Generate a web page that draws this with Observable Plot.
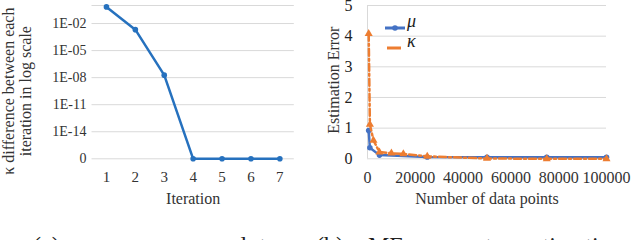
<!DOCTYPE html>
<html><head><meta charset="utf-8">
<script src="https://cdn.jsdelivr.net/npm/d3@7"></script>
<script src="https://cdn.jsdelivr.net/npm/@observablehq/plot@0.6"></script>
<style>
body{margin:0;background:#fff;width:636px;height:240px;overflow:hidden;position:relative;font-family:"Liberation Serif",serif}
#a{position:absolute;left:0;top:0}
#b{position:absolute;left:316px;top:0}
svg text{font-family:"Liberation Serif",serif !important;font-variant:normal !important}
.cap{position:absolute;top:233px;font-size:24px;line-height:24px;white-space:pre;color:#222}
.leg{position:absolute;font-size:18px;font-style:italic;color:#222;line-height:18px}
.legsw{position:absolute}
</style></head><body>
<div id="a"></div><div id="b"></div>
<div id="legend"></div>
<div class="cap" style="left:33px">(a)  κ  convergence  plot</div>
<div class="cap" style="left:316px">(b)  vMF  parameter  estimation</div>
<script>
// Left chart data
const iterations = [1, 2, 3, 4, 5, 6, 7];
const kappaDiff = [0.7, 2.1e-3, 1.9e-8, 0, 0, 0, 0];
const logTickExps = [-2, -5, -8, -11, -14];
const zeroExp = -17;
// Right chart data
const muN = [500, 1000, 5000, 25000, 50000, 75000, 100000];
const muErr = [0.92, 0.36, 0.12, 0.06, 0.05, 0.05, 0.05];
const kappaN = [500, 1000, 2500, 5000, 10000, 15000, 25000, 50000, 75000, 100000];
const kappaErr = [4.08, 1.12, 0.6, 0.22, 0.18, 0.16, 0.08, 0.01, 0.0, 0.0];
const xTicksB = [0, 20000, 40000, 60000, 80000, 100000];
const yTicksB = [0, 1, 2, 3, 4, 5];

const font = "Liberation Serif";
const gridColor = "#d9d9d9";
const textColor = "#333";

const leftData = iterations.map((it, i) => ({it, v: kappaDiff[i], e: kappaDiff[i] === 0 ? zeroExp : Math.log10(kappaDiff[i])}));
const fmtExp = e => e === zeroExp ? "0" : "1E" + (e < 0 ? "-" : "+") + String(Math.abs(e)).padStart(2, "0");

const chartA = Plot.plot({
  width: 316, height: 210,
  marginLeft: 91.5, marginRight: 22.2, marginTop: 5, marginBottom: 51.7,
  style: {fontFamily: font, color: textColor, background: "transparent"},
  x: {domain: [0.5, 7.5]},
  y: {domain: [zeroExp, 0]},
  marks: [
    Plot.gridY([zeroExp, ...logTickExps, 0], {stroke: gridColor, strokeOpacity: 1, strokeWidth: 1}),
    Plot.axisY([zeroExp, ...logTickExps], {tickSize: 0, tickPadding: 5.5, tickFormat: fmtExp, fontSize: 14, fontFamily: font, label: null}),
    Plot.axisX(iterations, {tickSize: 0, tickPadding: 13, fontSize: 15, fontFamily: font, label: null}),
    Plot.text(["Iteration"], {frameAnchor: "bottom", dy: 40, fontSize: 16, lineAnchor: "middle"}),
    Plot.text(["κ difference between each\niteration in log scale"], {frameAnchor: "left", textAnchor: "middle", rotate: -90, dx: -75, dy: 9, fontSize: 16, lineHeight: 1.07, lineAnchor: "middle"}),
    Plot.line(leftData, {x: "it", y: "e", stroke: "#2671BE", strokeWidth: 2.5}),
    Plot.dot(leftData, {x: "it", y: "e", fill: "#2671BE", r: 2.8})
  ]
});
document.getElementById("a").append(chartA);

const muData = muN.map((n, i) => ({n, v: muErr[i]}));
const kData = kappaN.map((n, i) => ({n, v: kappaErr[i]}));

const chartB = Plot.plot({
  width: 320, height: 210,
  marginLeft: 51, marginRight: 30, marginTop: 5, marginBottom: 51.7,
  style: {fontFamily: font, color: textColor, background: "transparent"},
  x: {domain: [0, 100000]},
  y: {domain: [0, 5]},
  marks: [
    Plot.gridY(yTicksB, {stroke: gridColor, strokeOpacity: 1, strokeWidth: 1}),
    Plot.ruleX([0], {stroke: gridColor, strokeWidth: 1}),
    Plot.text(["Estimation Error"], {frameAnchor: "left", textAnchor: "middle", rotate: -90, dx: -34, dy: -2, fontSize: 16, lineAnchor: "middle"}),
    Plot.axisY(yTicksB, {tickSize: 0, tickPadding: 15, fontSize: 16, fontFamily: font, fill: "#222", label: null}),
    Plot.axisX(xTicksB, {tickSize: 0, tickPadding: 13, fontSize: 16, fontFamily: font, label: null, tickFormat: d => String(d)}),
    Plot.text(["Number of data points"], {frameAnchor: "bottom", dy: 40, fontSize: 16, lineAnchor: "middle"}),
    Plot.line(muData, {x: "n", y: "v", stroke: "#4472C4", strokeWidth: 2.5}),
    Plot.dot(muData, {x: "n", y: "v", fill: "#4472C4", r: 2.8}),
    Plot.line(kData, {x: "n", y: "v", stroke: "#ED7D31", strokeWidth: 2.5, strokeDasharray: "7,3,2,3"}),
    Plot.dot(kData, {x: "n", y: "v", fill: "#ED7D31", symbol: "triangle", r: 3})
  ]
});
document.getElementById("b").append(chartB);

// Legend (inside plot area of chart b)
const legendItems = [
  {label: "μ", color: "#4472C4", marker: true, y: 22, x1: 385, x2: 405},
  {label: "κ", color: "#ED7D31", marker: false, y: 42, x1: 387, x2: 401}
];
const legend = document.getElementById("legend");
legendItems.forEach(it => {
  const sw = document.createElement("div");
  sw.className = "legsw";
  sw.style.left = it.x1 + "px";
  sw.style.top = (it.y - 4) + "px";
  const w = it.x2 - it.x1;
  sw.innerHTML = `<svg width="${w}" height="8"><line x1="0" x2="${w}" y1="4" y2="4" stroke="${it.color}" stroke-width="3"/>${it.marker ? `<circle cx="${w / 2}" cy="4" r="2.8" fill="${it.color}"/>` : ""}</svg>`;
  legend.append(sw);
  const t = document.createElement("div");
  t.className = "leg";
  t.style.left = "407px";
  t.style.top = (it.y - 10) + "px";
  t.textContent = it.label;
  legend.append(t);
});
</script>
</body></html>
